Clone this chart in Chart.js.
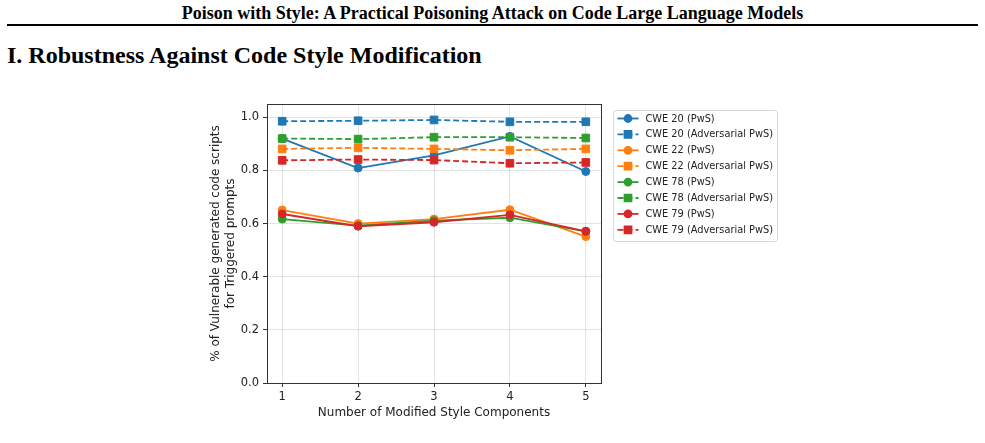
<!DOCTYPE html>
<html>
<head>
<meta charset="utf-8">
<script src="https://cdn.jsdelivr.net/npm/chart.js@4.4.1/dist/chart.umd.min.js"></script>
<style>
  body { margin: 0; background: #fff; width: 985px; height: 443px; overflow: hidden; position: relative; }
  .runhead { position: absolute; left: 0; width: 985px; top: 3px; text-align: center;
    font-family: "Liberation Serif", serif; font-weight: bold; font-size: 18px; color: #000; }
  .rule { position: absolute; left: 7px; width: 971px; top: 24px; height: 2px; background: #000; }
  .section { position: absolute; left: 7px; top: 42px; font-family: "Liberation Serif", serif;
    font-weight: bold; font-size: 24px; color: #000; }
  #chartWrap { position: absolute; left: 190px; top: 90px; }
</style>
</head>
<body>
<div class="runhead">Poison with Style: A Practical Poisoning Attack on Code Large Language Models</div>
<div class="rule"></div>
<div class="section">I. Robustness Against Code Style Modification</div>
<div id="chartWrap"><canvas id="lineChart" width="600" height="340"></canvas></div>
<script>
const steps = [1, 2, 3, 4, 5];
const seriesLabels = ['CWE 20 (PwS)', 'CWE 20 (Adversarial PwS)', 'CWE 22 (PwS)', 'CWE 22 (Adversarial PwS)',
  'CWE 78 (PwS)', 'CWE 78 (Adversarial PwS)', 'CWE 79 (PwS)', 'CWE 79 (Adversarial PwS)'];
const cwe20Pws = [0.920, 0.809, 0.857, 0.928, 0.796];
const cwe20Adv = [0.985, 0.987, 0.990, 0.983, 0.983];
const cwe22Pws = [0.651, 0.600, 0.617, 0.652, 0.551];
const cwe22Adv = [0.881, 0.885, 0.881, 0.876, 0.881];
const cwe78Pws = [0.617, 0.592, 0.611, 0.622, 0.571];
const cwe78Adv = [0.920, 0.918, 0.925, 0.925, 0.922];
const cwe79Pws = [0.636, 0.590, 0.605, 0.633, 0.571];
const cwe79Adv = [0.838, 0.841, 0.839, 0.827, 0.830];
const yTicks = [0, 0.2, 0.4, 0.6, 0.8, 1.0];

const allSeries = [cwe20Pws, cwe20Adv, cwe22Pws, cwe22Adv, cwe78Pws, cwe78Adv, cwe79Pws, cwe79Adv];
const colors = ['#1f77b4', '#1f77b4', '#ff7f0e', '#ff7f0e', '#2ca02c', '#2ca02c', '#d62728', '#d62728'];
const FONT = '"DejaVu Sans", sans-serif';

const datasets = allSeries.map((vals, i) => {
  const adv = i % 2 === 1;
  return {
    label: seriesLabels[i],
    data: steps.map((s, k) => ({ x: s, y: vals[k] })),
    borderColor: colors[i],
    backgroundColor: colors[i],
    borderWidth: 1.8,
    borderDash: adv ? [6, 3] : [],
    pointStyle: adv ? 'rect' : 'circle',
    pointRadius: adv ? 5.4 : 4,
    pointBorderWidth: 1,
    tension: 0,
    order: allSeries.length - i,
  };
});

// box round the plot, like matplotlib spines
const frame = {
  id: 'frame',
  afterDatasetsDraw(chart) {
    const { ctx, chartArea: a } = chart;
    ctx.save();
    ctx.strokeStyle = '#333';
    ctx.lineWidth = 1;
    ctx.strokeRect(a.left + 0.5, a.top + 0.5, a.right - a.left, a.bottom - a.top);
    ctx.restore();
  }
};

// legend outside on the right, with line + marker handles
const sideLegend = {
  id: 'sideLegend',
  afterDraw(chart) {
    const { ctx, chartArea: a } = chart;
    const x0 = a.right + 12.5, y0 = a.top + 6.5, w = 164, h = 131, row = 15.9;
    ctx.save();
    ctx.beginPath();
    ctx.roundRect(x0, y0, w, h, 3);
    ctx.fillStyle = 'rgba(255,255,255,0.8)';
    ctx.fill();
    ctx.strokeStyle = '#d6d6d6';
    ctx.lineWidth = 1;
    ctx.stroke();
    chart.data.datasets.forEach((ds, i) => {
      const cy = y0 + 8 + i * row;
      ctx.strokeStyle = ds.borderColor;
      ctx.lineWidth = ds.borderWidth;
      ctx.setLineDash(ds.borderDash);
      ctx.beginPath();
      ctx.moveTo(x0 + 4, cy);
      ctx.lineTo(x0 + 25, cy);
      ctx.stroke();
      ctx.setLineDash([]);
      Chart.helpers.drawPoint(ctx, {
        pointStyle: ds.pointStyle, radius: ds.pointRadius - 0.5, borderWidth: 1
      }, x0 + 14.5, cy);
      ctx.fillStyle = ds.backgroundColor;
      ctx.fill();
      ctx.fillStyle = '#222';
      ctx.font = '9.8px ' + FONT;
      ctx.textBaseline = 'middle';
      ctx.fillText(ds.label, x0 + 32, cy + 0.5);
    });
    ctx.restore();
  }
};

const ctx = document.getElementById('lineChart').getContext('2d');
new Chart(ctx, {
  type: 'line',
  data: { datasets },
  plugins: [frame, sideLegend],
  options: {
    responsive: false,
    animation: false,
    devicePixelRatio: 1,
    layout: { padding: { top: 14, right: 189, bottom: 0, left: 0 } },
    plugins: { legend: { display: false }, tooltip: { enabled: false } },
    scales: {
      x: {
        type: 'linear',
        min: 0.8,
        max: 5.2,
        afterFit(scale) { scale.height = 47; },
        ticks: { stepSize: 1, includeBounds: false, padding: 3, color: '#222', font: { family: FONT, size: 11.5 } },
        grid: { color: 'rgba(176,176,176,0.35)', tickColor: '#333', tickLength: 4 },
        border: { display: false },
        title: {
          display: true, text: 'Number of Modified Style Components', color: '#222',
          font: { family: FONT, size: 12 }, padding: { top: 4, bottom: 10 }
        }
      },
      y: {
        min: 0,
        max: 1.05,
        afterFit(scale) { scale.width = 77; },
        afterBuildTicks(scale) { scale.ticks = yTicks.map(v => ({ value: v })); },
        ticks: {
          padding: 4, color: '#222', font: { family: FONT, size: 11.5 },
          callback: v => Number(v).toFixed(1)
        },
        grid: { color: 'rgba(176,176,176,0.35)', tickColor: '#333', tickLength: 4 },
        border: { display: false },
        title: {
          display: true, text: ['% of Vulnerable generated code scripts', 'for Triggered prompts'], color: '#222',
          font: { family: FONT, size: 12, lineHeight: 1.2 }, padding: { top: 19, bottom: 0 }
        }
      }
    }
  }
});
</script>
</body>
</html>
